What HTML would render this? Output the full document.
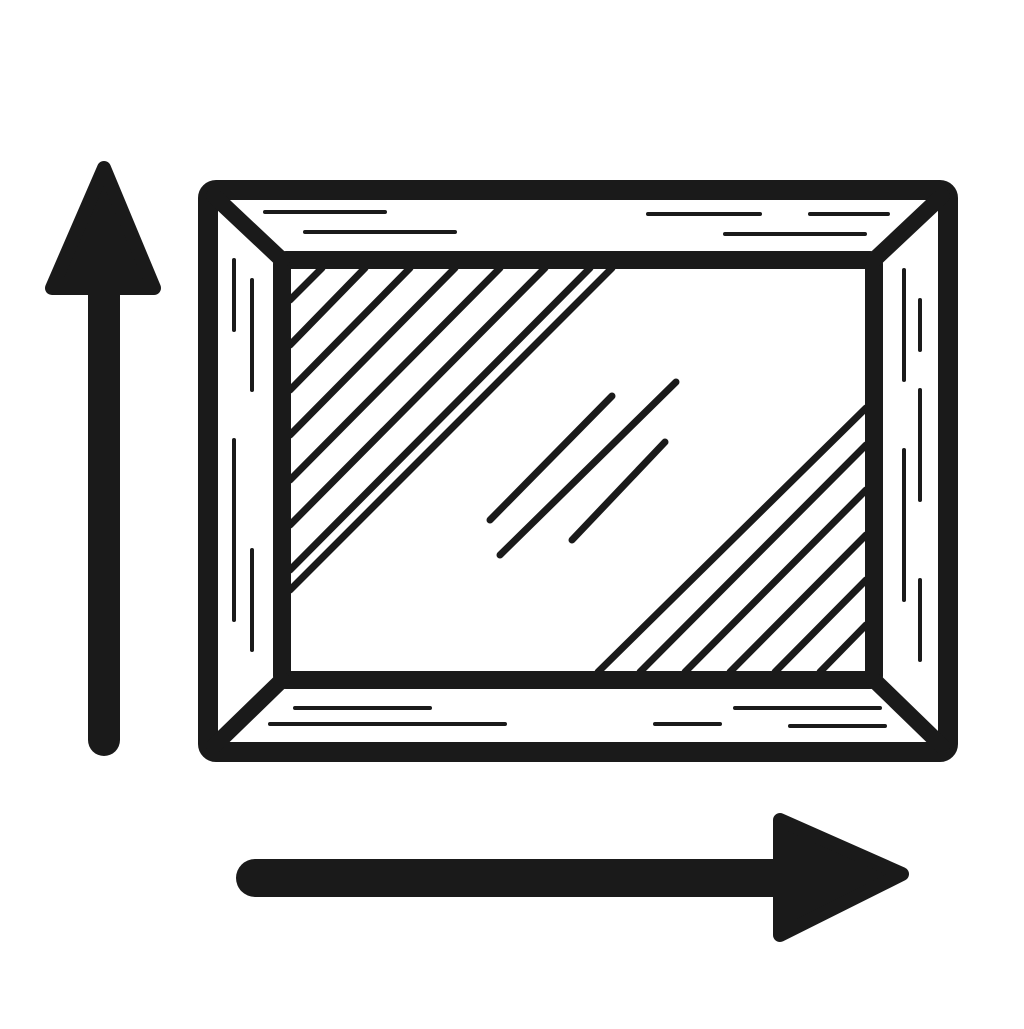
<!DOCTYPE html>
<html><head><style>html,body{margin:0;padding:0;background:#fff}</style></head>
<body>
<svg width="1024" height="1024" viewBox="0 0 1024 1024" xmlns="http://www.w3.org/2000/svg">
<g fill="none" stroke="#1a1a1a" stroke-linecap="round" stroke-linejoin="round">
<!-- outer frame -->
<rect x="208" y="190" width="740" height="562" rx="8" stroke-width="20"/>
<!-- inner rect -->
<rect x="282" y="260" width="592" height="420" rx="4" stroke-width="18"/>
<!-- miters -->
<line x1="214" y1="196" x2="282" y2="260" stroke-width="16"/>
<line x1="942" y1="196" x2="874" y2="260" stroke-width="16"/>
<line x1="214" y1="746" x2="282" y2="680" stroke-width="16"/>
<line x1="942" y1="746" x2="874" y2="680" stroke-width="16"/>
<!-- upper-left hatching -->
<g stroke-width="7">
<line x1="290" y1="300" x2="322" y2="268"/>
<line x1="290" y1="345" x2="365" y2="268"/>
<line x1="290" y1="390" x2="410" y2="268"/>
<line x1="290" y1="435" x2="455" y2="268"/>
<line x1="290" y1="480" x2="500" y2="268"/>
<line x1="290" y1="525" x2="545" y2="268"/>
<line x1="290" y1="570" x2="590" y2="268"/>
<line x1="290" y1="590" x2="612" y2="268"/>
<!-- lower-right hatching -->
<line x1="598" y1="672" x2="866" y2="408"/>
<line x1="640" y1="672" x2="866" y2="445"/>
<line x1="685" y1="672" x2="866" y2="490"/>
<line x1="730" y1="672" x2="866" y2="535"/>
<line x1="775" y1="672" x2="866" y2="580"/>
<line x1="820" y1="672" x2="866" y2="625"/>
<!-- reflections -->
<line x1="490" y1="520" x2="612" y2="396"/>
<line x1="500" y1="555" x2="676" y2="382"/>
<line x1="572" y1="540" x2="665" y2="442"/>
</g>
<!-- wood grain -->
<g stroke-width="4">
<line x1="265" y1="212" x2="385" y2="212"/><line x1="305" y1="232" x2="455" y2="232"/>
<line x1="648" y1="214" x2="760" y2="214"/><line x1="810" y1="214" x2="888" y2="214"/>
<line x1="725" y1="234" x2="865" y2="234"/>
<line x1="295" y1="708" x2="430" y2="708"/><line x1="270" y1="724" x2="505" y2="724"/>
<line x1="655" y1="724" x2="720" y2="724"/><line x1="735" y1="708" x2="880" y2="708"/>
<line x1="790" y1="726" x2="885" y2="726"/>
<line x1="234" y1="260" x2="234" y2="330"/><line x1="252" y1="280" x2="252" y2="390"/>
<line x1="234" y1="440" x2="234" y2="620"/><line x1="252" y1="550" x2="252" y2="650"/>
<line x1="904" y1="270" x2="904" y2="380"/><line x1="920" y1="300" x2="920" y2="350"/>
<line x1="920" y1="390" x2="920" y2="500"/><line x1="904" y1="450" x2="904" y2="600"/>
<line x1="920" y1="580" x2="920" y2="660"/>
</g>
<!-- up arrow -->
<line x1="104" y1="740" x2="104" y2="280" stroke-width="32"/>
<polygon points="104,168 52,288 154,288" fill="#1a1a1a" stroke-width="14"/>
<!-- right arrow -->
<line x1="255" y1="878" x2="810" y2="878" stroke-width="38"/>
<polygon points="902,874 780,820 780,935" fill="#1a1a1a" stroke-width="14"/>
</g>
</svg>
</body></html>
